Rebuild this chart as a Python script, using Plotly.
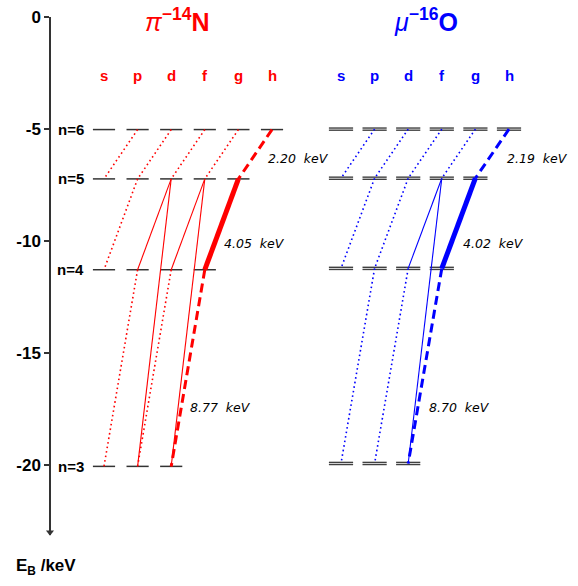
import plotly.graph_objects as go

# ---------------- data ----------------
orbitals = ["s", "p", "d", "f", "g", "h"]
n_values = [6, 5, 4, 3]
level_labels = ["n=6", "n=5", "n=4", "n=3"]

pion_levels = [-5.02, -7.22, -11.27, -20.04]      # binding energy (keV) for n=6,5,4,3
muon_levels = [-5.00, -7.19, -11.21, -19.91]

# transitions: (n_upper, l_upper, n_lower, l_lower, style)
pion_transitions = [
    (6, 1, 5, 0, "dot"), (6, 2, 5, 1, "dot"), (6, 3, 5, 2, "dot"), (6, 4, 5, 3, "dot"),
    (6, 5, 5, 4, "dash"),
    (5, 1, 4, 0, "dot"), (5, 2, 4, 1, "thin"), (5, 3, 4, 2, "thin"), (5, 4, 4, 3, "thick"),
    (5, 2, 3, 1, "thin"), (5, 3, 3, 2, "thin"),
    (4, 1, 3, 0, "dot"), (4, 2, 3, 1, "dot"), (4, 3, 3, 2, "dash"),
]
muon_transitions = [
    (6, 1, 5, 0, "dot"), (6, 2, 5, 1, "dot"), (6, 3, 5, 2, "dot"), (6, 4, 5, 3, "dot"),
    (6, 5, 5, 4, "dash"),
    (5, 1, 4, 0, "dot"), (5, 2, 4, 1, "dot"), (5, 3, 4, 2, "thin"), (5, 4, 4, 3, "thick"),
    (5, 3, 3, 2, "thin"),
    (4, 1, 3, 0, "dot"), (4, 2, 3, 1, "dot"), (4, 3, 3, 2, "dash"),
]

pion_energies = ["2.20", "4.05", "8.77"]
muon_energies = ["2.19", "4.02", "8.70"]

y_ticks = [0, -5, -10, -15, -20]

# ---------------- layout constants ----------------
PAGE_OFF = 0                 # body margin removed by the post script below
W, H = 578 - PAGE_OFF, 586 - PAGE_OFF
COL_PX = 33.6
PLOT_TOP, PLOT_BOT = 17, 535  # page pixels of the energy-axis ends
KEV_PX = (PLOT_BOT - PLOT_TOP) / 23.1
Y_MIN = -23.1


def px2x(px):               # page pixel -> column units (column 0 at page px 104)
    return (px - 104) / COL_PX


def py2y(py):               # page pixel -> keV (0 at page px 17)
    return -(py - PLOT_TOP) / KEV_PX


def py2paper(py):
    return (PLOT_BOT - py) / (PLOT_BOT - PLOT_TOP)


X0, X1 = px2x(PAGE_OFF), px2x(578)
MUON_OFF = px2x(341)
HALF = 0.33
AXIS_X = px2x(50)

PION_COLOR = "#ff0000"
MUON_COLOR = "#0000ff"
LEVEL_COLOR = "#333333"

styles = {
    "dot": dict(width=1.6, dash="1.6px,3px"),
    "dash": dict(width=3, dash="9px,5px"),
    "thin": dict(width=1.1, dash="solid"),
    "thick": dict(width=5, dash="solid"),
}

fig = go.Figure()


def add_atom(levels, transitions, offset, color, double):
    for n, E in zip(n_values, levels):
        for l in range(n):
            xc = offset + l
            if double:
                for dy in (-0.048, 0.048):
                    fig.add_trace(go.Scatter(x=[xc - HALF - 0.03, xc + HALF + 0.03], y=[E + dy, E + dy],
                                             mode="lines", line=dict(color="#404040", width=1.4),
                                             hoverinfo="skip", showlegend=False))
            else:
                fig.add_trace(go.Scatter(x=[xc - HALF, xc + HALF], y=[E, E], mode="lines",
                                         line=dict(color=LEVEL_COLOR, width=1.5),
                                         hoverinfo="skip", showlegend=False))
    for nu, lu, nl, ll, st in transitions:
        Eu = levels[n_values.index(nu)]
        El = levels[n_values.index(nl)]
        fig.add_trace(go.Scatter(x=[offset + lu, offset + ll], y=[Eu, El], mode="lines",
                                 line=dict(color=color, **styles[st]),
                                 hoverinfo="skip", showlegend=False))
    for i, o in enumerate(orbitals):
        fig.add_annotation(x=offset + i, y=py2y(75), text=f"<b>{o}</b>", showarrow=False,
                           font=dict(family="Liberation Sans", size=15, color=color))


add_atom(pion_levels, pion_transitions, 0.0, PION_COLOR, False)
add_atom(muon_levels, muon_transitions, MUON_OFF, MUON_COLOR, True)

for lab, E in zip(level_labels, pion_levels):
    fig.add_annotation(x=px2x(86), y=E, text=f"<b>{lab}</b>", showarrow=False,
                       xanchor="right", font=dict(family="Liberation Sans", size=15, color="black"))

pion_lab_pos = [(px2x(266), py2y(158)), (px2x(222), py2y(243)), (px2x(188), py2y(407))]
muon_lab_pos = [(px2x(505), py2y(158)), (px2x(461), py2y(243)), (px2x(427), py2y(407))]
for (x, y), e in list(zip(pion_lab_pos, pion_energies)) + list(zip(muon_lab_pos, muon_energies)):
    fig.add_annotation(x=x, y=y, text=f"<i>{e}&nbsp;&nbsp;keV</i>", showarrow=False, xanchor="left",
                       font=dict(family="DejaVu Sans", size=12.5, color="black"))

fig.add_annotation(x=px2x(177), y=py2paper(20), yref="paper", xanchor="center", yanchor="middle",
                   text="<i>π</i><sup><b>−14</b></sup><b>N</b>", showarrow=False,
                   font=dict(family="Liberation Sans", size=25, color=PION_COLOR))
fig.add_annotation(x=px2x(426), y=py2paper(20), yref="paper", xanchor="center", yanchor="middle",
                   text="<i>μ</i><sup><b>−16</b></sup><b>O</b>", showarrow=False,
                   font=dict(family="Liberation Sans", size=25, color=MUON_COLOR))

# arrow head at the bottom of the energy axis
fig.add_trace(go.Scatter(x=[AXIS_X], y=[Y_MIN + 0.12], mode="markers",
                         marker=dict(symbol="triangle-down", size=7, color="#333333"),
                         hoverinfo="skip", showlegend=False))

fig.add_annotation(x=px2x(14), y=py2paper(567), yref="paper",
                   text="<b>E<sub>B</sub> /keV</b>", showarrow=False,
                   xanchor="left", yanchor="middle",
                   font=dict(family="Liberation Sans", size=17, color="black"))

fig.update_layout(
    width=W, height=H,
    margin=dict(l=0, r=0, t=PLOT_TOP - PAGE_OFF, b=586 - PLOT_BOT),
    paper_bgcolor="white", plot_bgcolor="white",
    xaxis=dict(range=[X0, X1], visible=False, fixedrange=True),
    yaxis=dict(range=[Y_MIN, 0], anchor="free", position=(50 - PAGE_OFF) / W, side="left",
               showline=True, linecolor="#333333", linewidth=1.5,
               ticks="outside", ticklen=5, tickwidth=1.5, tickcolor="#333333",
               tickvals=y_ticks, ticktext=[f"<b>{v}</b>" for v in y_ticks],
               ticklabeloverflow="allow",
               tickfont=dict(family="Liberation Sans", size=17, color="black"),
               showgrid=False, zeroline=False, fixedrange=True),
    showlegend=False,
)
for tr in fig.data:
    tr.cliponaxis = False

fig.write_html("out.html", config={"displayModeBar": False},
               post_script="document.body.style.margin='0px';document.body.style.overflow='hidden';")
